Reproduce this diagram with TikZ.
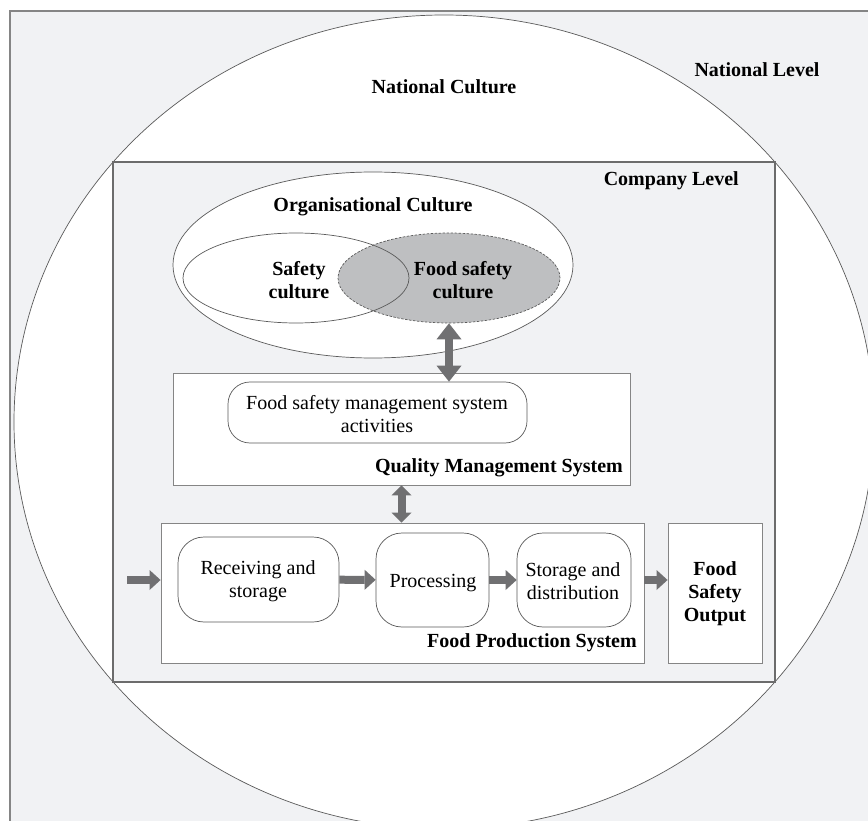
\documentclass[tikz,border=0pt]{standalone}
\usepackage{fontspec}
\setmainfont{Liberation Serif}
\usepackage{xcolor}
\usepackage{tikz}
\usetikzlibrary{shapes.geometric,arrows.meta}
\definecolor{frameBg}{HTML}{F1F2F4}
\definecolor{fsGray}{HTML}{BEBFC1}
\definecolor{arrowGray}{HTML}{707072}
\definecolor{lineGray}{HTML}{5A5A5A}
\definecolor{boxGray}{HTML}{858585}
\definecolor{compGray}{HTML}{6C6C6C}

\begin{document}
\begin{tikzpicture}[x=1pt,y=-1pt,
		txt/.style={font=\fontsize{20}{23}\selectfont, align=center, inner sep=0pt},
		ttl/.style={txt, font=\fontsize{20}{23}\selectfont\bfseries},
		box/.style={draw=boxGray, fill=white, line width=0.9pt, inner sep=0pt},
		rbox/.style={box, draw=lineGray, line width=0.7pt, rounded corners=22pt},
		oval/.style={ellipse, draw=lineGray, line width=0.7pt, inner sep=0pt},
		bigarrow/.style={draw=arrowGray, line width=8pt,
			{Triangle[length=16pt,width=25pt,line width=0pt]}-{Triangle[length=16pt,width=25pt,line width=0pt]}},
		flowarrow/.style={draw=arrowGray, line width=8pt,
			-{Triangle[length=11pt,width=20pt,line width=0pt]}},
		flowdouble/.style={flowarrow,
			{Triangle[length=10pt,width=20pt,line width=0pt]}-{Triangle[length=10pt,width=20pt,line width=0pt]}}]
		\useasboundingbox (0,0) rectangle (868,821);
		\clip (0,0) rectangle (868,821);
		% national level frame, cut by the page on the right and at the bottom
		\draw[draw=boxGray, fill=frameBg, line width=1.2pt] (10,900) -- (10,11) -- (900,11) -- (900,900) -- cycle;
		\node (nat) [oval, fill=white, minimum width=860pt, minimum height=814pt] at (444,422) {};
		\node (comp) [draw=compGray, fill=frameBg, line width=1.8pt, inner sep=0pt,
			minimum width=662pt, minimum height=520pt] at (444,422) {};
		\node (org) [oval, fill=white, minimum width=400pt, minimum height=186pt] at (373,265) {};
		\node (fsc) [oval, fill=fsGray, dash pattern=on 2.5pt off 1.5pt, minimum width=222pt, minimum height=90pt] at (449,278) {};
		\node (sc) [oval, minimum width=226pt, minimum height=90pt] at (296,278) {};
		\node (qms) [box, minimum width=457pt, minimum height=112pt] at (401.5,429) {};
		\node (fsms) [rbox, minimum width=299pt, minimum height=61pt] at (377.5,412.5) {};
		\node (fps) [box, minimum width=483pt, minimum height=140pt] at (402.5,593) {};
		\node (recv) [rbox, rounded corners=26pt, minimum width=161pt, minimum height=85pt] at (258.5,579.5) {};
		\node (proc) [rbox, rounded corners=26pt, minimum width=113pt, minimum height=94pt] at (432.5,580) {};
		\node (stor) [rbox, rounded corners=26pt, minimum width=114pt, minimum height=94pt] at (574,580) {};
		\node (out) [box, minimum width=94pt, minimum height=140pt] at (715,593) {};
		% texts
		\node (natlbl) [ttl, anchor=base] at (444,94) {National Culture};
		\node (lvllbl) [ttl, anchor=base] at (757,77) {National Level};
		\node (complbl) [ttl, anchor=base east] at (739,186) {Company Level};
		\node (orglbl) [ttl, anchor=base] at (373,212) {Organisational Culture};
		\node (sclbl) [ttl] at (299,280) {Safety\\culture};
		\node (fsclbl) [ttl] at (463,280) {Food safety\\culture};
		\node (fsmslbl) [txt] at (377,414) {Food safety management system\\activities};
		\node (qmslbl) [ttl, anchor=base east] at (623,472) {Quality Management System};
		\node (recvlbl) [txt] at (258,581) {Receiving and\\storage};
		\node (proclbl) [txt, anchor=base] at (433,587) {Processing};
		\node (storlbl) [txt] at (573,581) {Storage and\\distribution};
		\node (fpslbl) [ttl, anchor=base east] at (637,647) {Food Production System};
		\node (outlbl) [ttl] at (715,594) {Food\\Safety\\Output};
		% arrows
		\coordinate (inp) at (127,580);
		\draw[bigarrow] (fsc.south) -- (fsc.south |- fsms.north);
		\draw[flowdouble] (qms.south) -- (qms.south |- fps.north);
		\draw[flowarrow] (inp) -- (inp -| fps.west);
		\draw[flowarrow] (recv) -- (proc);
		\draw[flowarrow] (proc) -- (stor);
		\draw[flowarrow] (fps.east |- stor.east) -- (out.west |- stor.east);
	\end{tikzpicture}
\end{document}
